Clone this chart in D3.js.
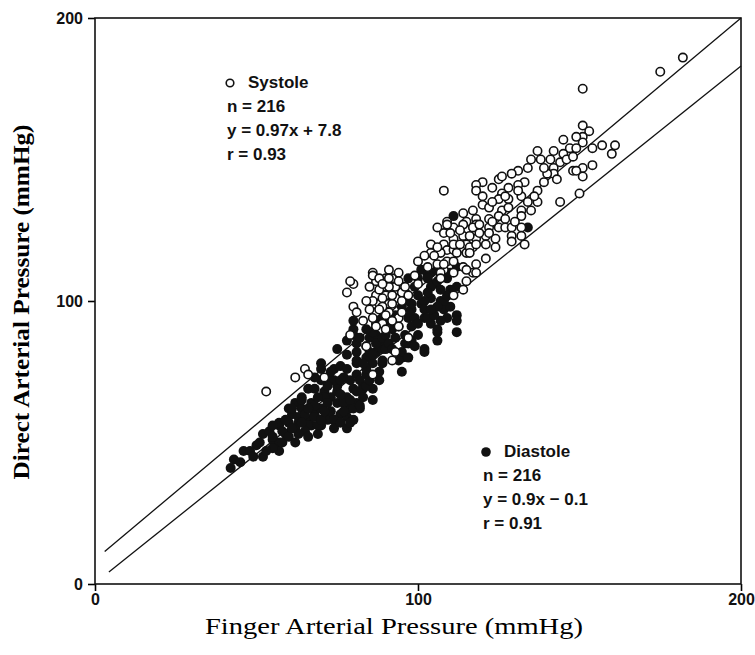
<!DOCTYPE html>
<html>
<head>
<meta charset="utf-8">
<script src="https://cdnjs.cloudflare.com/ajax/libs/d3/7.8.5/d3.min.js"></script>
<style>
  body { margin: 0; background: #fff; }
  svg { display: block; }
  .tick text { font-family: "Liberation Sans", Arial, sans-serif; font-weight: bold; font-size: 16px; fill: #111; }
  .note { font-family: "Liberation Sans", Arial, sans-serif; font-weight: bold; font-size: 17px; fill: #111; }
</style>
</head>
<body>
<div id="plot"></div>
<script>
// Finger vs direct arterial pressure (mmHg).
var systole = [
  [182,186],[175,181],[151,175],[151,162],[153,160],[151,158],[151,156],[154,154],[157,155],[160,152],
  [161,155],[151,147],[154,148],[151,144],[150,138],[149,158],[147,154],[149,154],[137,153],[142,153],
  [145,152],[138,150],[141,150],[144,149],[142,147],[142,145],[148,146],[149,146],[134,147],[131,146],
  [129,145],[125,143],[120,142],[118,141],[108,139],[133,142],[131,141],[128,140],[126,138],[132,137],
  [137,139],[134,135],[137,135],[128,136],[125,136],[118,139],[120,137],[120,134],[122,133],[117,132],
  [126,132],[128,133],[132,132],[132,130],[144,135],[114,131],[109,128],[111,126],[115,128],[118,129],
  [118,127],[122,129],[125,130],[125,126],[127,126],[129,126],[132,126],[132,123],[129,123],[129,121],
  [133,120],[108,124],[111,122],[114,123],[115,120],[118,122],[121,123],[124,122],[121,120],[117,119],
  [124,119],[121,115],[108,120],[109,118],[111,118],[115,117],[109,114],[114,112],[118,113],[117,110],
  [111,110],[108,111],[106,126],[109,127],[114,127],[117,126],[119,127],[122,126],[122,124],[111,120],
  [113,120],[116,119],[118,120],[104,117],[107,117],[112,117],[100,114],[103,112],[106,113],[108,113],
  [111,114],[116,117],[91,111],[94,110],[99,109],[107,110],[115,111],[118,110],[86,110],[87,107],
  [90,108],[93,106],[90,105],[87,101],[90,102],[93,103],[95,103],[100,106],[107,108],[115,107],
  [114,104],[111,102],[88,99],[91,99],[93,101],[95,100],[87,96],[91,96],[94,94],[89,92],
  [87,91],[90,90],[94,91],[97,87],[93,82],[92,79],[86,74],[53,68],[62,73],[65,76],
  [66,74],[71,73],[84,84],[79,88],[78,103],[80,98],[81,96],[83,93],[86,109],[88,108],
  [87,102],[89,101],[89,98],[92,99],[92,102],[93,105],[91,105],[92,108],[90,95],[80,106],[79,107],
  [85,105],[86,100],[88,104],[89,106],[91,108],[94,107],[96,105],[97,102],[95,96],[92,93],
  [86,94],[88,97],[84,100],[85,97],[104,120],[105,116],[102,116],[106,119],[110,124],[113,125],
  [116,123],[119,124],[123,128],[127,129],[130,128],[135,132],[136,137],[139,142],[140,145],[143,143],
  [146,150],[139,147],[135,150],[131,139],[127,137],[123,135],[123,140],[126,144],[145,157],[148,151]
];

var diastole = [
  [43,44],[42,41],[46,47],[52,45],[50,49],[52,53],[54,54],[57,56],[55,51],[57,50],
  [57,47],[59,53],[57,57],[61,60],[60,62],[62,64],[64,66],[64,62],[66,58],[67,56],
  [70,56],[72,58],[68,60],[70,62],[73,61],[66,69],[68,69],[71,68],[73,66],[75,64],
  [76,60],[78,59],[80,58],[82,62],[79,62],[75,68],[75,70],[73,72],[74,76],[76,77],
  [78,76],[81,74],[84,74],[86,69],[83,69],[80,69],[78,66],[81,64],[70,78],[75,83],
  [78,81],[81,82],[84,80],[87,82],[89,83],[81,85],[80,88],[87,88],[89,86],[85,87],
  [81,78],[86,78],[89,78],[51,50],[55,56],[55,52],[58,50],[61,62],[64,65],[63,59],
  [67,64],[68,59],[66,56],[69,56],[71,66],[77,64],[80,62],[82,63],[81,68],[83,70],
  [77,73],[74,72],[70,76],[78,86],[80,90],[80,93],[81,79],[84,76],[85,82],[87,85],
  [86,89],[89,87],[90,83],[89,79],[95,75],[95,80],[97,85],[102,83],[106,86],[106,89],
  [104,92],[102,94],[101,99],[104,101],[105,106],[103,109],[107,109],[108,99],[109,94],[97,94],
  [94,91],[104,110],[103,108],[104,105],[103,103],[99,105],[98,99],[102,100],[102,97],[103,94],
  [107,100],[108,97],[110,98],[112,95],[112,93],[112,89],[106,90],[102,82],[96,85],[95,82],
  [99,94],[98,91],[112,112],[112,105],[110,104],[108,100],[107,93],[98,97],[100,102],[96,100],
  [97,96],[134,126],[111,130],
  [63,57],[65,60],[68,63],[70,58],[72,64],[69,66],[66,62],[62,55],[60,57],[65,54],
  [71,61],[74,58],[77,61],[79,65],[76,67],[72,70],[70,72],[68,73],[73,75],[76,72],
  [79,72],[82,72],[84,70],[85,72],[83,66],[86,65],[88,72],[88,75],[83,78],[86,81],
  [84,84],[82,87],[84,90],[87,92],[88,95],[90,88],[92,90],[91,85],[93,87],[92,83],
  [94,79],[96,88],[98,86],[100,88],[99,84],[97,80],[100,92],[105,95],[106,98],[104,97],
  [109,102],[107,104],[106,107],[109,108],[110,110],[106,111],[100,108],[101,111],[96,103],[97,108],
  [95,98],[93,95],[91,93],[55,48],[58,54],[60,52],[62,50],[63,53],[48,47],[45,43],
  [49,45],[53,47],[59,58],[61,55],[64,57],[66,52],[69,53],[74,55],[76,57],[78,55],[79,57]
];

// regression lines as drawn (end points)
var systoleFit = [[3,11.5],[200,200]];
var diastoleFit = [[4.3,4.2],[200,183]];

var axisTicks = [0, 100, 200];

var systoleNote = ["Systole", "n = 216", "y = 0.97x + 7.8", "r = 0.93"];
var diastoleNote = ["Diastole", "n = 216", "y = 0.9x \u2212 0.1", "r = 0.91"];

var W = 755, H = 655;
var svg = d3.select("#plot").append("svg")
  .attr("width", W)
  .attr("height", H);

var x = d3.scaleLinear().domain([0, 200]).range([95, 741]);
var y = d3.scaleLinear().domain([0, 200]).range([584, 18]);

// axes
svg.append("g")
  .attr("transform", "translate(" + x(0) + ",0)")
  .call(d3.axisLeft(y).tickValues(axisTicks).tickSize(7).tickSizeOuter(0).tickPadding(5))
  .call(function(g){ g.select(".domain").remove(); })
  .call(function(g){ g.selectAll(".tick line").attr("stroke-width", 1.6); });

svg.append("g")
  .attr("transform", "translate(0," + y(0) + ")")
  .call(d3.axisBottom(x).tickValues(axisTicks).tickSize(7).tickSizeOuter(0).tickPadding(3))
  .call(function(g){ g.select(".domain").remove(); })
  .call(function(g){ g.selectAll(".tick line").attr("stroke-width", 1.6); });

// frame
svg.append("rect")
  .attr("x", x(0)).attr("y", y(200))
  .attr("width", x(200) - x(0))
  .attr("height", y(0) - y(200))
  .attr("fill", "none")
  .attr("stroke", "#111")
  .attr("stroke-width", 1.6);

// fit lines
var line = d3.line().x(function(d){ return x(d[0]); }).y(function(d){ return y(d[1]); });
[systoleFit, diastoleFit].forEach(function(f){
  svg.append("path").attr("d", line(f))
    .attr("fill", "none").attr("stroke", "#111").attr("stroke-width", 1.3);
});

// points
svg.append("g").selectAll("circle")
  .data(diastole).enter().append("circle")
  .attr("cx", function(d){ return x(d[0]); })
  .attr("cy", function(d){ return y(d[1]); })
  .attr("r", 5)
  .attr("fill", "#111");

svg.append("g").selectAll("circle")
  .data(systole).enter().append("circle")
  .attr("cx", function(d){ return x(d[0]); })
  .attr("cy", function(d){ return y(d[1]); })
  .attr("r", 4.2)
  .attr("fill", "#fff")
  .attr("stroke", "#111")
  .attr("stroke-width", 1.6);

// annotations
function note(lines, x0, y0, filled) {
  var g = svg.append("g");
  g.append("circle")
    .attr("cx", x0 + 3).attr("cy", y0 - 5)
    .attr("r", filled ? 4.8 : 3.8)
    .attr("fill", filled ? "#111" : "#fff")
    .attr("stroke", "#111").attr("stroke-width", filled ? 0 : 1.6);
  lines.forEach(function(t, i){
    g.append("text").attr("class", "note")
      .attr("x", i == 0 ? x0 + 21 : x0)
      .attr("y", y0 + i * 24)
      .text(t);
  });
}
note(systoleNote, 227, 88, false);
note(diastoleNote, 483, 457, true);

// axis titles
svg.append("text")
  .attr("transform", "translate(29,302) rotate(-90)")
  .attr("text-anchor", "middle")
  .attr("textLength", 355)
  .attr("lengthAdjust", "spacingAndGlyphs")
  .style("font-family", "'Liberation Serif', 'Times New Roman', serif")
  .style("font-weight", "bold")
  .style("font-size", "23px")
  .text("Direct Arterial Pressure (mmHg)");

svg.append("text")
  .attr("x", 394).attr("y", 634)
  .attr("text-anchor", "middle")
  .attr("textLength", 378)
  .attr("lengthAdjust", "spacingAndGlyphs")
  .style("font-family", "'Liberation Serif', 'Times New Roman', serif")
  .style("font-size", "24px")
  .text("Finger Arterial Pressure (mmHg)");
</script>
</body>
</html>
